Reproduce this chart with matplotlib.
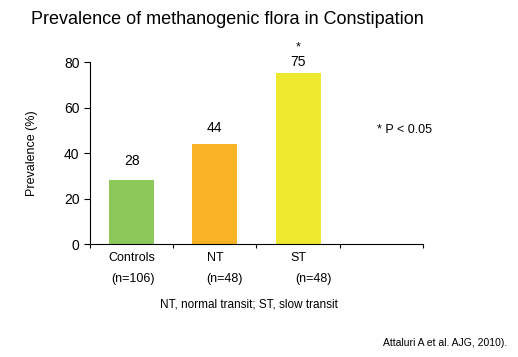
import numpy as np
import matplotlib.pyplot as plt

groups = ['Controls', 'NT', 'ST']
n_labels = ['(n=106)', '(n=48)', '(n=48)']
prevalence = [28, 44, 75]
colors = ['#8cc85a', '#f8b325', '#efe92d']
yticks = [0, 20, 40, 60, 80]

plt.rcParams['font.family'] = ['Liberation Sans', 'DejaVu Sans']

fig = plt.figure(figsize=(5.18, 3.57), dpi=100)
ax = fig.add_axes([0.1737, 0.3165, 0.6429, 0.5098])

x = np.arange(len(groups)) + 0.5
ax.bar(x, prevalence, width=0.54, color=colors)
ax.set_xlim(0, 4)
ax.set_ylim(0, 80)
ax.set_xticks(np.arange(5))
ax.set_xticklabels([])
ax.set_yticks(yticks)
ax.tick_params(axis='y', labelsize=10, length=4, width=0.8)
ax.tick_params(axis='x', length=3, width=0.8, direction='out')
ax.spines['top'].set_visible(False)
ax.spines['right'].set_visible(False)
ax.set_ylabel('Prevalence (%)', fontsize=9, labelpad=19)

# value labels sit at slightly different heights above each bar
label_gap = [14, 11.5, 8]
for xi, v, g in zip(x, prevalence, label_gap):
    ax.annotate(str(v), (xi, v), xytext=(0, g), textcoords='offset points',
                ha='center', va='center', fontsize=10)
ax.annotate('*', (x[2], prevalence[2]), xytext=(0, 19), textcoords='offset points',
            ha='center', va='center', fontsize=9)

# category labels under the axis
n_shift = [0.02, 0.12, 0.19]
for xi, g, nl, s in zip(x, groups, n_labels, n_shift):
    ax.text(xi, -6.2, g, ha='center', va='center', fontsize=9)
    ax.text(xi + s, -15.5, nl, ha='center', va='center', fontsize=9)

fig.text(0.06, 0.945, 'Prevalence of methanogenic flora in Constipation',
         fontsize=13, ha='left', va='center')
fig.text(0.727, 0.635, '* P < 0.05', fontsize=9, ha='left', va='center')
fig.text(0.48, 0.148, 'NT, normal transit; ST, slow transit', fontsize=8.5,
         ha='center', va='center')
fig.text(0.98, 0.038, 'Attaluri A et al. AJG, 2010).', fontsize=7.5,
         ha='right', va='center')

fig.savefig('out.png', dpi=100)
